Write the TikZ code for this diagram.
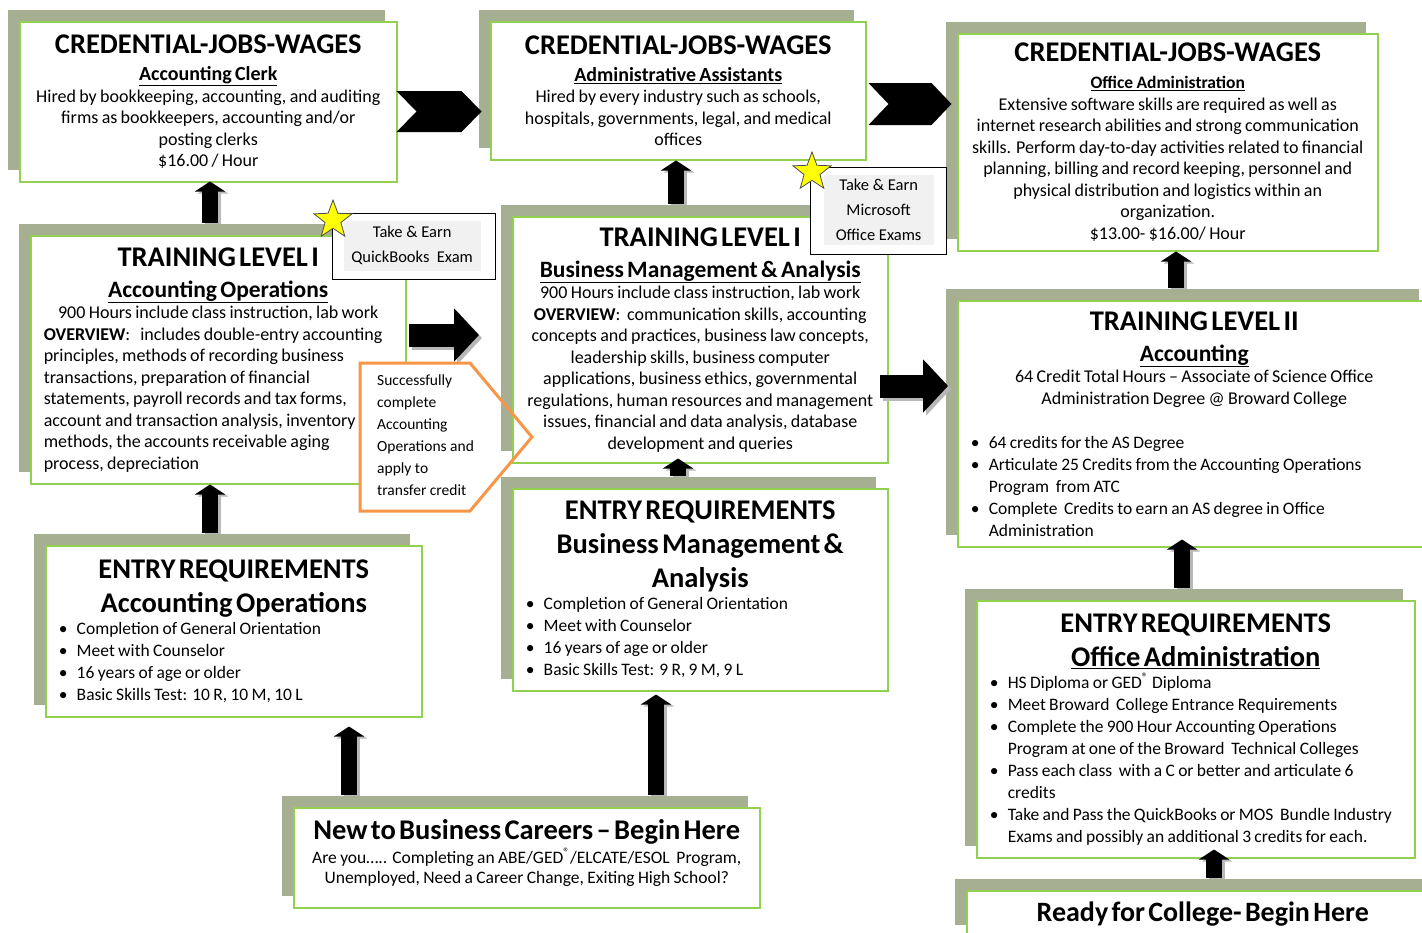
\documentclass[tikz,border=0pt]{standalone}
\usepackage{fontspec}
\setmainfont{Carlito}
\usetikzlibrary{shadows,shapes.geometric,arrows.meta,calc}

\definecolor{boxgreen}{RGB}{146,208,80}
\definecolor{shadowgreen}{RGB}{167,175,147}
\definecolor{calloutgray}{RGB}{241,241,241}
\definecolor{pentorange}{RGB}{247,150,70}
\definecolor{starfill}{RGB}{255,255,0}

\newcommand{\hdfont}{\fontsize{28.5}{34}\selectfont\bfseries}
\newcommand{\subfont}{\fontsize{23.5}{31}\selectfont\bfseries}
\newcommand{\jobfont}{\fontsize{20}{27}\selectfont\bfseries}
\newcommand{\bodyfont}{\fontsize{18}{21.5}\selectfont}
\newcommand{\listfont}{\fontsize{17.5}{22}\selectfont}
\newcommand{\callfont}{\fontsize{16.5}{25}\selectfont}
\newcommand{\notefont}{\fontsize{15.5}{22}\selectfont}
\newcommand{\bitem}[1]{\par\noindent\hangindent=21pt\hangafter=1\hbox to 21pt{\hspace{3pt}\textbullet\hss}#1}

\begin{document}
\begin{tikzpicture}[x=1pt,y=-1pt,
  card/.style={draw=boxgreen, line width=1.5pt, fill=white, anchor=north west,
    inner xsep=10pt, inner ysep=0pt, align=center,
    copy shadow={shadow xshift=-12pt, shadow yshift=12pt, draw=none, fill=shadowgreen}},
  callframe/.style={draw=black, line width=1.2pt, fill=white, anchor=north west, inner sep=0pt},
  calltext/.style={fill=calloutgray, inner sep=0pt, align=center, font=\callfont},
  badge/.style={star, star points=5, star point ratio=2.4, fill=starfill, draw=black!70,
    line width=0.8pt, minimum size=40pt, inner sep=0pt},
  upflow/.style={line width=16pt, -{Triangle[width=30pt,length=10pt]}},
  rightflow/.style={line width=23pt, -{Triangle[width=52pt,length=25pt]}},
  flowshade/.style={black!28}]

\useasboundingbox (0,0) rectangle (1422,932);
\clip (0,0) rectangle (1422,932);
\fill[white] (0,0) rectangle (1422,932);

% credential - jobs - wages row
\node[card, text width=357pt, minimum height=160pt] (cj1) at (19,21) {%
  {\hdfont CREDENTIAL-JOBS-WAGES\par}
  {\jobfont\underline{Accounting Clerk}\par}
  {\bodyfont Hired by bookkeeping, accounting, and auditing\\
   firms as bookkeepers, accounting and/or\\ posting clerks\\ \$16.00 / Hour\par}};
\node[card, text width=355pt, minimum height=138pt] (cj2) at (490,21) {%
  {\hdfont CREDENTIAL-JOBS-WAGES\par}
  {\jobfont\underline{Administrative Assistants}\par}
  {\bodyfont Hired by every industry such as schools,\\
   hospitals, governments, legal, and medical\\ offices\par}};
\node[card, text width=400pt, minimum height=217pt] (cj3) at (957,33) {%
  {\hdfont CREDENTIAL-JOBS-WAGES\par}
  {\fontsize{17.5}{27}\selectfont\bfseries\underline{Office Administration}\par}
  {\bodyfont Extensive software skills are required as well as\\
   internet research abilities and strong communication\\
   skills. Perform day-to-day activities related to financial\\
   planning, billing and record keeping, personnel and\\
   physical distribution and logistics within an\\
   organization.\\ \$13.00- \$16.00/ Hour\par}};

% training level I - accounting operations
\node[card, text width=355pt, minimum height=248pt] (tl1) at (30,235) {%
  {\hdfont TRAINING LEVEL I\par}
  {\subfont\underline{Accounting Operations}\par}
  {\bodyfont 900 Hours include class instruction, lab work\par
   \raggedright\leftskip=3pt
   \textbf{OVERVIEW}:\ \ \ includes double-entry accounting\\
   principles, methods of recording business\\
   transactions, preparation of financial\\
   statements, payroll records and tax forms,\\
   account and transaction\ analysis, inventory\\
   methods, the accounts receivable aging\\
   process, depreciation\par}};

% transfer note, white part under the next box
\fill[white] (360,363) -- (470,363) -- (532,437) -- (470,511) -- (360,511) -- cycle;

% training level I - business management
\node[card, text width=355pt, minimum height=246pt] (tbm) at (512,216) {%
  {\hdfont TRAINING LEVEL I\par}
  {\subfont\underline{Business Management \& Analysis}\par}
  {\bodyfont 900 Hours include class instruction, lab work\\
   \textbf{OVERVIEW}:\ \ communication skills, accounting\\
   concepts and practices, business law concepts,\\
   leadership skills, business computer\\
   applications, business ethics, governmental\\
   regulations, human resources and management\\
   issues, financial and data analysis, database\\
   development and queries\par}};

% training level II
\node[card, text width=453pt, minimum height=246pt] (tl2) at (957,300) {%
  {\hdfont TRAINING LEVEL II\par}
  {\subfont\underline{Accounting}\par}
  {\bodyfont 64 Credit Total Hours -- Associate of Science Office\\
   Administration Degree @ Broward College\par}
  \vspace{22pt}
  {\listfont\raggedright
   \bitem{64 credits for the AS Degree}
   \bitem{Articulate 25 Credits from the Accounting Operations\newline Program\ \ from ATC}
   \bitem{Complete\ \ Credits to earn an AS degree in Office\newline Administration}\par}};

% entry requirements row
\node[card, text width=356pt, minimum height=171pt] (ea) at (45,545) {%
  {\hdfont ENTRY REQUIREMENTS\par}
  {\hdfont Accounting Operations\par}
  {\listfont\raggedright
   \bitem{Completion of General Orientation}
   \bitem{Meet with Counselor}
   \bitem{16 years of age or older}
   \bitem{Basic Skills Test: 10 R, 10 M, 10 L}\par}};
\node[card, text width=355pt, minimum height=202pt] (ebm) at (512,488) {%
  {\hdfont ENTRY REQUIREMENTS\\ Business Management \&\\ Analysis\par}
  {\listfont\raggedright
   \bitem{Completion of General Orientation}
   \bitem{Meet with Counselor}
   \bitem{16 years of age or older}
   \bitem{Basic Skills Test: 9 R, 9 M, 9 L}\par}};
\node[card, text width=418pt, minimum height=257pt] (eoa) at (976,600) {%
  {\hdfont ENTRY REQUIREMENTS\par}
  {\hdfont\underline{Office Administration}\par}
  {\listfont\raggedright
   \bitem{HS Diploma or GED\textsuperscript{®} Diploma}
   \bitem{Meet Broward\ \ College Entrance Requirements}
   \bitem{Complete the 900 Hour Accounting Operations\newline Program at one of the Broward\ \ Technical Colleges}
   \bitem{Pass each class\ \ with a C or better and articulate 6\newline credits}
   \bitem{Take and Pass the QuickBooks or MOS\ \ Bundle Industry\newline Exams and possibly an additional 3 credits for each.}\par}};

% starting points
\node[card, text width=446pt, minimum height=100pt] (nb) at (293,807) {%
  {\fontsize{28.5}{32}\selectfont\bfseries New to Business Careers -- Begin Here\par}
  \vspace{4pt}
  {\fontsize{17.5}{20}\selectfont Are you….. Completing an ABE/GED\textsuperscript{®}/ELCATE/ESOL\ \ Program,\\
   Unemployed, Need a Career Change, Exiting High School?\par}\kern10pt};
\node[card, text width=452pt, minimum height=46pt] (rc) at (966,890) {%
  {\fontsize{28}{32}\selectfont\bfseries Ready for College- Begin Here\par}};

% chevrons between the wage boxes
\fill[black] ($(cj1.north east)+(-1,70)$) -- ++(65,0) -- ++(20,20.5) -- ++(-20,20.5)
  -- ++(-65,0) -- ++(20,-20.5) -- cycle;
\fill[black] ($(cj2.north east)+(2,62)$) -- ++(63,0) -- ++(20,21) -- ++(-20,21)
  -- ++(-63,0) -- ++(20,-21) -- cycle;

% up arrows
\foreach \src/\dx/\dst/\tx/\ty in {ea/165/tl1/180/0, tl1/180/cj1/191/-1, tbm/164/cj2/186/0,
    ebm/166/tbm/166/-5, nb/56/ea/304/9, nb/363/ebm/144/3, tl2/219/cj3/219/0,
    eoa/206/tl2/225/-8, rc/248/eoa/238/-9} {
  \draw[upflow, flowshade] ($(\src.north west)+(\dx+3,-11)$) -- ($(\dst.south west)+(\tx+3,\ty+2)$);
  \draw[upflow] ($(\src.north west)+(\dx,-12)$) -- ($(\dst.south west)+(\tx,\ty)$);
}

% right arrows
\draw[rightflow, flowshade] ($(tl1.north east)+(5,103)$) -- ($(tbm.north west)+(-30,122)$);
\draw[rightflow] ($(tl1.north east)+(2,100)$) -- ($(tbm.north west)+(-33,119)$);
\draw[rightflow, flowshade] ($(tbm.north east)+(-6,173)$) -- ($(tl2.north west)+(-6,89)$);
\draw[rightflow] ($(tbm.north east)+(-9,170)$) -- ($(tl2.north west)+(-9,86)$);

% transfer note
\draw[pentorange, line width=3pt] (360,363) -- (470,363) -- (532,437) -- (470,511)
  -- (360,511) -- cycle;
\node[anchor=north west, align=left, inner sep=0pt, font=\notefont] (transfer) at (377,375)
  {Successfully\\ complete\\ Accounting\\ Operations and\\ apply to\\ transfer credit};

% take & earn callouts
\node[callframe, minimum width=163pt, minimum height=66pt] (qbframe) at (332,213) {};
\node[calltext, minimum width=137pt, minimum height=50pt] (qbtext) at ($(qbframe.center)+(-2,-1)$)
  {Take \& Earn\\ QuickBooks\ \ Exam};
\node[badge] (qbstar) at (333,220) {};
\node[callframe, minimum width=136pt, minimum height=87pt] (msframe) at (810,167) {};
\node[calltext, minimum width=110pt, minimum height=70pt] (mstext) at ($(msframe.center)+(0,-1)$)
  {Take \& Earn\\ Microsoft\\ Office Exams};
\node[badge] (msstar) at (812,172) {};
\end{tikzpicture}
\end{document}
